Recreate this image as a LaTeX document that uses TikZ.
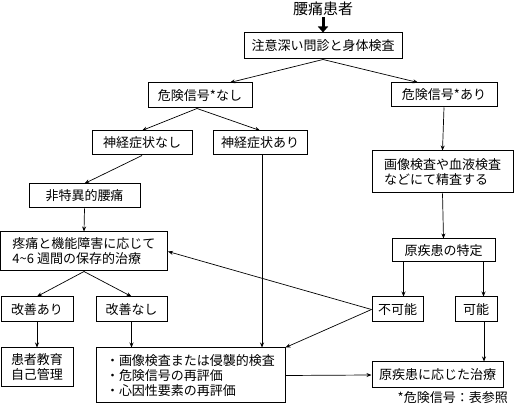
\documentclass[tikz,border=0pt]{standalone}
\usepackage{fontspec}
\setmainfont{Noto Sans CJK JP}
\usetikzlibrary{arrows.meta}

\begin{document}
\begin{tikzpicture}[x=1pt,y=-1pt,
    box/.style={draw,line width=1pt,inner sep=2pt,font=\fontsize{13}{15}\selectfont},
    flow/.style={line width=0.7pt,-{Stealth[length=5pt,width=4pt]}},
    bigarrow/.style={line width=3pt,-{Triangle[length=6pt,width=10pt]}}]
  \useasboundingbox (0,0) rectangle (515,406);
  % title and first step
  \node[font=\fontsize{15}{17}\selectfont,inner sep=1pt] (title) at (323,9) {腰痛患者};
  \node[box,minimum width=158,minimum height=26] (exam) at (323,46) {注意深い問診と身体検査};
  % left branch
  \node[box,minimum width=104,minimum height=25] (nored) at (200,95.5) {危険信号*なし};
  \node[box,minimum width=100,minimum height=24] (noneuro) at (142,143) {神経症状なし};
  \node[box,minimum width=94,minimum height=24] (neuro) at (260,143) {神経症状あり};
  \node[box,minimum width=111,minimum height=24] (nonspec) at (84.5,196) {非特異的腰痛};
  \node[box,minimum width=167,minimum height=39,align=left] (conserv) at (84,251.5) {疼痛と機能障害に応じて\\4\char`\~6 週間の保存的治療};
  \node[box,minimum width=72,minimum height=25] (better) at (37,309.5) {改善あり};
  \node[box,minimum width=71,minimum height=25] (worse) at (131.5,309.5) {改善なし};
  \node[box,minimum width=72,minimum height=39,align=center] (educ) at (37,367.5) {患者教育\\自己管理};
  \node[box,minimum width=189,minimum height=55,align=left] (reeval) at (190.5,375.5) {・画像検査または侵襲的検査\\・危険信号の再評価\\・心因性要素の再評価};
  % right branch
  \node[box,minimum width=106,minimum height=24] (red) at (444,95) {危険信号*あり};
  \node[box,minimum width=141,minimum height=42,align=left] (imaging) at (442.5,172) {画像検査や血液検査\\などにて精査する};
  \node[box,minimum width=103,minimum height=23] (cause) at (443.5,250.5) {原疾患の特定};
  \node[box,minimum width=51,minimum height=25] (unable) at (397.5,309.5) {不可能};
  \node[box,minimum width=42,minimum height=25] (able) at (476,309.5) {可能};
  \node[box,minimum width=131,minimum height=26] (treat) at (437.5,375) {原疾患に応じた治療};
  \node[anchor=east,inner sep=0pt,font=\fontsize{13}{15}\selectfont] (note) at (508,398) {*危険信号：表参照};
  % connectors
  \draw[bigarrow] (title.south) -- (exam.north);
  \draw[flow] (exam.south) -- ([xshift=30]nored.north);
  \draw[flow] (exam.south) -- ([xshift=-26]red.north);
  \draw[flow] ([xshift=-3]nored.south) -- (noneuro.north);
  \draw[flow] ([xshift=-3]nored.south) -- (neuro.north);
  \draw[flow] (noneuro.south) -- (nonspec.north);
  \draw[flow] (nonspec.south) -- (conserv.north);
  \draw[flow] (conserv.south) -- (better.north);
  \draw[flow] (conserv.south) -- (worse.north);
  \draw[flow] (better.south) -- (educ.north);
  \draw[flow] (worse.south) -- (worse.south |- reeval.north);
  \draw[flow] ([xshift=2]neuro.south) -- ([xshift=2]neuro.south |- reeval.north);
  \draw[flow] (red.south) -- (imaging.north);
  \draw[flow] (imaging.south) -- (cause.north);
  \draw[flow] ([xshift=-40]cause.south) -- ([xshift=-40]cause.south |- unable.north);
  \draw[flow] ([xshift=40]cause.south) -- ([xshift=40]cause.south |- able.north);
  \draw[flow] (unable.west) -- (conserv.east);
  \draw[flow] (unable.west) -- (reeval.north east);
  \draw[flow] ([xshift=8]able.south) -- ([xshift=8]able.south |- treat.north);
  \draw[flow] (reeval.east) -- (treat.west);
\end{tikzpicture}
\end{document}
